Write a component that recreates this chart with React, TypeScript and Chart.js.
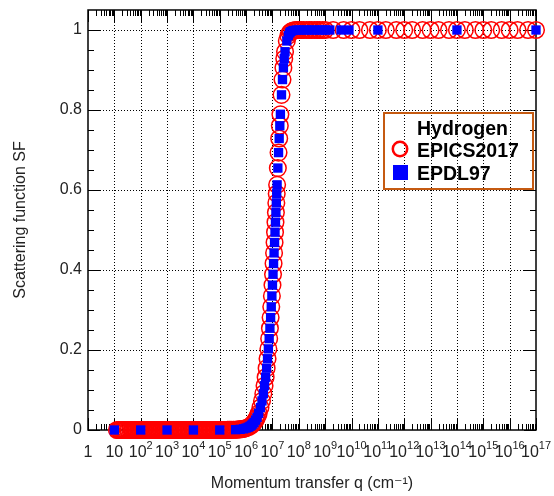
import { useEffect, useRef } from 'react';
import { Chart, registerables } from 'chart.js';

Chart.register(...registerables);

// ---- axis ticks ----
const xTickValues = [1, 1e1, 1e2, 1e3, 1e4, 1e5, 1e6, 1e7, 1e8, 1e9, 1e10, 1e11, 1e12, 1e13, 1e14, 1e15, 1e16, 1e17];
const xTickBase = ['1', '10', '10', '10', '10', '10', '10', '10', '10', '10', '10', '10', '10', '10', '10', '10', '10', '10'];
const xTickExp = ['', '', '2', '3', '4', '5', '6', '7', '8', '9', '10', '11', '12', '13', '14', '15', '16', '17'];
const xMinorMultipliers = [2, 3, 4, 5, 6, 7, 8, 9];
const yTickValues = [0, 0.2, 0.4, 0.6, 0.8, 1];
const yTickLabels = ['0', '0.2', '0.4', '0.6', '0.8', '1'];
const yMinorTicks = [0.05, 0.1, 0.15, 0.25, 0.3, 0.35, 0.45, 0.5, 0.55, 0.65, 0.7, 0.75, 0.85, 0.9, 0.95];

// ---- legend ----
const legendTitle = 'Hydrogen';
const seriesNames = ['EPICS2017', 'EPDL97'];

// ---- EPICS2017 (red open circles) ----
const epicsQ = [
  12.5, 14, 16, 18, 20, 22.5, 25, 28, 32, 35, 40, 45, 50, 56, 63, 70, 80, 90,
  100, 112, 125, 140, 160, 180, 200, 225, 250, 280, 320, 350, 400, 450, 500, 560, 630, 700, 800, 900,
  1e3, 1.12e3, 1.25e3, 1.4e3, 1.6e3, 1.8e3, 2e3, 2.25e3, 2.5e3, 2.8e3, 3.2e3, 3.5e3, 4e3, 4.5e3, 5e3, 5.6e3, 6.3e3, 7e3, 8e3, 9e3,
  1e4, 1.12e4, 1.25e4, 1.4e4, 1.6e4, 1.8e4, 2e4, 2.25e4, 2.5e4, 2.8e4, 3.2e4, 3.5e4, 4e4, 4.5e4, 5e4, 5.6e4, 6.3e4, 7e4, 8e4, 9e4,
  1e5, 1.12e5, 1.25e5, 1.4e5, 1.6e5, 1.8e5, 2e5, 2.25e5, 2.5e5, 2.8e5, 3.2e5, 3.5e5, 4e5, 4.5e5, 5e5, 5.6e5, 6.3e5, 7e5, 8e5, 9e5,
  1e6, 1.25e6, 1.5e6, 1.75e6, 2e6, 2.25e6, 2.5e6, 2.75e6, 3e6, 3.5e6, 4e6, 4.5e6,
  5e6, 5.5e6, 6e6, 6.5e6, 7e6, 7.5e6, 8e6, 8.5e6, 9e6, 9.5e6,
  1e7, 1.05e7, 1.1e7, 1.15e7, 1.2e7, 1.25e7, 1.3e7, 1.35e7, 1.4e7, 1.45e7, 1.5e7,
  1.6e7, 1.7e7, 1.8e7, 1.9e7, 2e7, 2.2e7, 2.4e7, 2.6e7, 2.8e7, 3e7,
  3.5e7, 4e7, 4.5e7, 5e7, 6e7, 7e7, 8e7, 9e7,
  1e8, 1.25e8, 1.5e8, 2e8, 2.5e8, 3e8, 4e8, 5e8, 6e8, 8e8, 1e9,
  2e9, 5e9, 1e10, 2e10, 5e10, 1e11, 2e11, 5e11, 1e12, 2e12, 5e12, 1e13,
  2e13, 5e13, 1e14, 2e14, 5e14, 1e15, 2e15, 5e15, 1e16, 2e16, 5e16, 1e17,
];
const epicsSF = [
  0, 0, 0, 0, 0, 0, 0, 0, 0, 0, 0, 0, 0, 0, 0, 0, 0, 0,
  0, 0, 0, 0, 0, 0, 0, 0, 0, 0, 0, 0, 0, 0, 0, 0, 0, 0, 0, 0,
  0, 0, 0, 0, 0, 0, 0, 0, 0, 0, 0, 0, 0, 0, 0, 0, 0, 0, 0, 0,
  0, 0, 0, 0, 0, 0, 0, 0, 0, 0, 0, 0, 0, 0, 0, 0, 0, 0, 0, 0,
  0, 0, 0, 0, 0, 0, 0.0002, 0.0002, 0.0003, 0.0004, 0.0005, 0.0006, 0.0008, 0.001, 0.0012, 0.0015, 0.0019, 0.0023, 0.003, 0.0039,
  0.0048, 0.0074, 0.0106, 0.0144, 0.0188, 0.0237, 0.0292, 0.0352, 0.0417, 0.0562, 0.0727, 0.0909,
  0.1107, 0.1319, 0.1545, 0.1782, 0.2028, 0.2283, 0.2544, 0.281, 0.3079, 0.3351,
  0.3622, 0.3893, 0.4162, 0.4427, 0.4688, 0.4945, 0.5195, 0.544, 0.5677, 0.5907, 0.6129,
  0.6549, 0.6935, 0.7287, 0.7606, 0.7893, 0.8379, 0.8761, 0.9057, 0.9284, 0.9457,
  0.9726, 0.9859, 0.9926, 0.996, 0.9987, 0.9995, 0.9998, 0.9999,
  1, 1, 1, 1, 1, 1, 1, 1, 1, 1, 1,
  1, 1, 1, 1, 1, 1, 1, 1, 1, 1, 1, 1,
  1, 1, 1, 1, 1, 1, 1, 1, 1, 1, 1, 1,
];

// ---- EPDL97 (blue squares) ----
const epdlQ = [
  10, 100, 1e3, 1e4, 1e5,
  4e5, 6e5, 8e5,
  1e6, 1.2e6, 1.4e6, 1.6e6, 1.8e6,
  2e6, 2.3e6, 2.6e6,
  3e6, 3.5e6, 4e6, 4.5e6, 5e6, 5.5e6, 6e6, 6.5e6, 7e6, 7.5e6, 8e6, 8.5e6, 9e6, 9.5e6,
  1e7, 1.05e7, 1.1e7, 1.15e7, 1.2e7, 1.25e7, 1.3e7, 1.35e7, 1.4e7, 1.45e7, 1.5e7,
  1.6e7, 1.7e7, 1.8e7, 1.9e7, 2e7,
  2.2e7, 2.4e7, 2.6e7, 2.8e7, 3e7,
  3.5e7, 4e7, 4.5e7, 5e7,
  6e7, 8e7,
  1e8, 1.5e8, 2e8, 3e8, 4e8, 6e8, 8e8, 1e9, 1.5e9,
  4e9, 8e9,
  1e11, 1e14, 1e17,
];
const epdlSF = [
  0, 0, 0, 0, 0,
  0.0008, 0.0017, 0.003,
  0.0048, 0.0068, 0.0093, 0.0121, 0.0153,
  0.0188, 0.0248, 0.0315,
  0.0417, 0.0562, 0.0727, 0.0909, 0.1107, 0.1319, 0.1545, 0.1782, 0.2028, 0.2283, 0.2544, 0.281, 0.3079, 0.3351,
  0.3622, 0.3893, 0.4162, 0.4427, 0.4688, 0.4945, 0.5195, 0.544, 0.5677, 0.5907, 0.6129,
  0.6549, 0.6935, 0.7287, 0.7606, 0.7893,
  0.8379, 0.8761, 0.9057, 0.9284, 0.9457,
  0.9726, 0.9859, 0.9926, 0.996,
  0.9987, 0.9998,
  1, 1, 1, 1, 1, 1, 1, 1, 1,
  1, 1,
  1, 1, 1,
];

const FONT = '"Liberation Sans", "DejaVu Sans", Arial, sans-serif';
const TEXT_COLOR = '#222';

const framePlugin = {
  id: 'rootFrame',
  beforeDatasetsDraw(chart: any) {
    const { ctx, chartArea: a, scales } = chart;
    const xs = scales.x;
    const ys = scales.y;
    ctx.save();
    // dotted grid
    ctx.strokeStyle = '#000';
    ctx.lineWidth = 1;
    ctx.setLineDash([1, 2]);
    ctx.beginPath();
    for (const v of xTickValues) {
      const px = Math.round(xs.getPixelForValue(v)) + 0.5;
      if (px <= a.left + 1 || px >= a.right - 1) continue;
      ctx.moveTo(px, a.top);
      ctx.lineTo(px, a.bottom);
    }
    for (const v of yTickValues) {
      const py = Math.round(ys.getPixelForValue(v)) + 0.5;
      if (py >= a.bottom - 1 || py <= a.top + 1) continue;
      ctx.moveTo(a.left, py);
      ctx.lineTo(a.right, py);
    }
    ctx.stroke();
    ctx.setLineDash([]);

    // ticks inside the frame
    ctx.lineWidth = 1;
    ctx.beginPath();
    const xMajor = 12;
    const xMinor = 6;
    for (let i = 0; i < xTickValues.length; i++) {
      const v = xTickValues[i];
      const px = Math.round(xs.getPixelForValue(v)) + 0.5;
      ctx.moveTo(px, a.bottom);
      ctx.lineTo(px, a.bottom - xMajor);
      ctx.moveTo(px, a.top);
      ctx.lineTo(px, a.top + xMajor);
      if (i < xTickValues.length - 1) {
        for (const m of xMinorMultipliers) {
          const mx = Math.round(xs.getPixelForValue(v * m)) + 0.5;
          ctx.moveTo(mx, a.bottom);
          ctx.lineTo(mx, a.bottom - xMinor);
          ctx.moveTo(mx, a.top);
          ctx.lineTo(mx, a.top + xMinor);
        }
      }
    }
    const yMajor = 12;
    const yMinor = 6;
    for (const v of yTickValues) {
      const py = Math.round(ys.getPixelForValue(v)) + 0.5;
      ctx.moveTo(a.left, py);
      ctx.lineTo(a.left + yMajor, py);
      ctx.moveTo(a.right, py);
      ctx.lineTo(a.right - yMajor, py);
    }
    for (const v of yMinorTicks) {
      const py = Math.round(ys.getPixelForValue(v)) + 0.5;
      ctx.moveTo(a.left, py);
      ctx.lineTo(a.left + yMinor, py);
      ctx.moveTo(a.right, py);
      ctx.lineTo(a.right - yMinor, py);
    }
    ctx.stroke();

    // frame
    ctx.lineWidth = 1.5;
    ctx.strokeRect(a.left, a.top, a.right - a.left, a.bottom - a.top);

    // x tick labels: "10" with a raised exponent
    ctx.fillStyle = TEXT_COLOR;
    ctx.textBaseline = 'alphabetic';
    ctx.textAlign = 'left';
    const baseFont = `16px ${FONT}`;
    const expFont = `11px ${FONT}`;
    for (let i = 0; i < xTickValues.length; i++) {
      const px = xs.getPixelForValue(xTickValues[i]);
      ctx.font = baseFont;
      const bw = ctx.measureText(xTickBase[i]).width;
      ctx.font = expFont;
      const ew = xTickExp[i] ? ctx.measureText(xTickExp[i]).width : 0;
      const start = px - (bw + ew) / 2;
      ctx.font = baseFont;
      ctx.fillText(xTickBase[i], start, a.bottom + 27);
      if (xTickExp[i]) {
        ctx.font = expFont;
        ctx.fillText(xTickExp[i], start + bw, a.bottom + 19);
      }
    }
    ctx.restore();
  },
  afterDatasetsDraw(chart: any) {
    const { ctx, chartArea: a } = chart;
    ctx.save();
    const bx = a.right - 152;
    const by = a.top + 103;
    const bw = 149;
    const bh = 76;
    ctx.strokeStyle = '#c55a11';
    ctx.lineWidth = 2;
    ctx.strokeRect(bx, by, bw, bh);

    ctx.fillStyle = '#000';
    ctx.font = `bold 19.5px ${FONT}`;
    ctx.textBaseline = 'alphabetic';
    ctx.textAlign = 'left';
    const tx = bx + 33;
    ctx.fillText(legendTitle, tx, by + 22);
    ctx.fillText(seriesNames[0], tx, by + 44);
    ctx.fillText(seriesNames[1], tx, by + 67);

    // markers
    ctx.strokeStyle = '#ff0000';
    ctx.lineWidth = 2.5;
    ctx.beginPath();
    ctx.arc(bx + 16, by + 36, 7.2, 0, Math.PI * 2);
    ctx.stroke();
    ctx.fillStyle = '#0000ff';
    ctx.fillRect(bx + 9, by + 52, 15, 15);
    ctx.restore();
  },
};

export default function App() {
  const ref = useRef<HTMLCanvasElement | null>(null);
  useEffect(() => {
    if (!ref.current) return;
    const epics = epicsQ.map((q, i) => ({ x: q, y: epicsSF[i] }));
    const epdl = epdlQ.map((q, i) => ({ x: q, y: epdlSF[i] }));
    const chart = new Chart(ref.current, {
      type: 'scatter',
      data: {
        datasets: [
          {
            label: seriesNames[0],
            data: epics,
            showLine: false,
            pointStyle: 'circle',
            pointRadius: 8.3,
            pointBorderWidth: 1.5,
            pointBorderColor: '#ff0000',
            pointBackgroundColor: 'rgba(0,0,0,0)',
            borderColor: '#ff0000',
            backgroundColor: 'rgba(0,0,0,0)',
            order: 2,
            clip: false,
          } as any,
          {
            label: seriesNames[1],
            data: epdl,
            showLine: false,
            pointStyle: 'rect',
            pointRadius: 6.6,
            pointBorderWidth: 0,
            pointBorderColor: '#0000ff',
            pointBackgroundColor: '#0000ff',
            borderColor: '#0000ff',
            backgroundColor: '#0000ff',
            order: 1,
            clip: false,
          } as any,
        ],
      },
      options: {
        responsive: false,
        animation: false,
        devicePixelRatio: 1,
        events: [],
        layout: { padding: { left: 0, right: 18, top: 10, bottom: 0 } },
        plugins: { legend: { display: false }, tooltip: { enabled: false } },
        scales: {
          x: {
            type: 'logarithmic',
            position: 'bottom',
            min: 1,
            max: 1e17,
            afterBuildTicks: (s: any) => {
              s.ticks = xTickValues.map((v) => ({ value: v }));
            },
            afterFit: (s: any) => {
              s.height = 66;
              s.paddingLeft = 0;
              s.paddingRight = 0;
              s.paddingTop = 0;
              s.paddingBottom = 0;
            },
            grid: { display: false, drawTicks: false },
            border: { display: false },
            ticks: { display: false, autoSkip: false, maxRotation: 0, minRotation: 0 },
            title: {
              display: true,
              text: 'Momentum transfer q (cm⁻¹)',
              color: TEXT_COLOR,
              font: { family: FONT, size: 16 },
              padding: { top: 0, bottom: 3 },
            },
          },
          y: {
            type: 'linear',
            min: 0,
            max: 1.05,
            afterBuildTicks: (s: any) => {
              s.ticks = yTickValues.map((v) => ({ value: v }));
            },
            afterFit: (s: any) => {
              s.width = 88;
              s.paddingLeft = 0;
              s.paddingRight = 0;
              s.paddingTop = 0;
              s.paddingBottom = 0;
            },
            grid: { display: false, drawTicks: false },
            border: { display: false },
            ticks: {
              padding: 6,
              color: TEXT_COLOR,
              font: { family: FONT, size: 16 },
              callback: (_v: any, i: number) => yTickLabels[i],
            },
            title: {
              display: true,
              text: 'Scattering function SF',
              color: TEXT_COLOR,
              font: { family: FONT, size: 16 },
              padding: { top: 11, bottom: 0 },
            },
          },
        },
      } as any,
      plugins: [framePlugin],
    });
    return () => chart.destroy();
  }, []);
  return (
    <div style={{ position: 'absolute', left: 0, top: 0, width: 554, height: 496, background: '#fff' }}>
      <canvas ref={ref} width={554} height={496} style={{ width: 554, height: 496 }} />
    </div>
  );
}
